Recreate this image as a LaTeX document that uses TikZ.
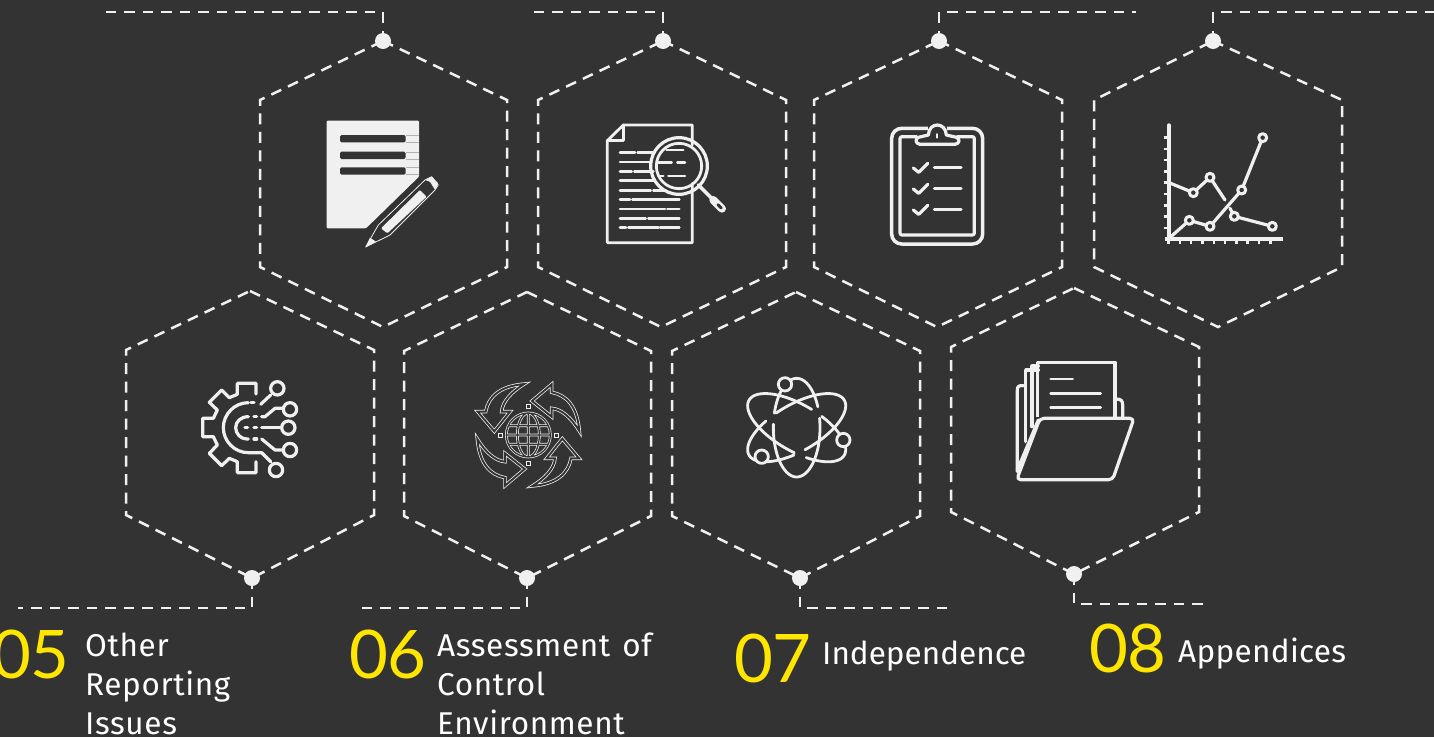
\documentclass[tikz,border=0pt]{standalone}
\usepackage{fontspec}
\setmainfont{Fira Sans}
\newfontfamily\numfont{Lato}
\definecolor{bg}{HTML}{333333}
\definecolor{ink}{HTML}{F0F0F0}
\definecolor{eyyellow}{HTML}{FFE600}
\newcommand{\hexa}[8]{\draw[hexline] (#1,#2) -- (#4,#5) -- (#4,#6) -- (#7,#8) -- (#3,#6) -- (#3,#5) -- cycle;}
\tikzset{
  hexline/.style={draw=ink,line width=2.5pt,dash pattern=on 11pt off 7.5pt},
  linkline/.style={draw=ink,line width=2.5pt,dash pattern=on 10.5pt off 8pt},
  dotnode/.style={circle,fill=ink,inner sep=0pt,minimum size=16pt},
  numlabel/.style={anchor=base east,text=eyyellow,inner sep=0pt,font=\numfont\fontsize{67}{67}\selectfont},
  txtlabel/.style={anchor=base west,text=white,inner sep=0pt,align=left,text depth=0pt,font=\addfontfeatures{LetterSpace=2}\fontsize{31.5}{39}\selectfont},
  zoomat/.style 2 args={shift={(#1,#2)},x=0.33333pt,y=-0.33333pt},
  icon/.style={draw=ink,line width=3.2pt,line cap=round,line join=round},
  thin icon/.style={draw=ink,line width=0.8pt,line join=round},
  twin/.style={draw=ink,line width=0.75pt,double=bg,double distance=1.9pt,line join=miter},
  twin globe/.style={draw=ink,line width=0.7pt,double=bg,double distance=1.3pt,line join=miter}
}
\begin{document}
\begin{tikzpicture}[x=1pt,y=-1pt]
\useasboundingbox (0,0) rectangle (1434,737);
\fill[bg] (0,0) rectangle (1434,737);
% hexagons
\hexa{383}{41}{260}{507}{100}{267}{383}{327}
\hexa{663}{41}{538}{786}{100}{267}{661}{327}
\hexa{939}{41}{814}{1062}{100}{267}{937}{327}
\hexa{1213}{41}{1094}{1342}{100}{267}{1218}{327}
\hexa{250}{291}{126}{374}{350}{515}{252}{578}
\hexa{527}{292}{404}{651}{351}{516}{527}{578}
\hexa{796}{292}{672}{920}{351}{516}{800}{578}
\hexa{1074}{288}{951}{1199}{347}{512}{1074}{574}
% dots and connectors
\node[dotnode] (d1) at (383,41) {};
\node[dotnode] (d2) at (663,41) {};
\node[dotnode] (d3) at (939,41) {};
\node[dotnode] (d4) at (1213,41) {};
\node[dotnode] (d5) at (252,578) {};
\node[dotnode] (d6) at (527,578) {};
\node[dotnode] (d7) at (800,578) {};
\node[dotnode] (d8) at (1074,574) {};
\coordinate (c1) at (383,12); \coordinate (e1) at (104,12);
\coordinate (c2) at (663,12); \coordinate (e2) at (534,12);
\coordinate (c3) at (939,12); \coordinate (e3) at (1136,12);
\coordinate (c4) at (1213,12); \coordinate (e4) at (1434,12);
\coordinate (c5) at (252,608); \coordinate (e5) at (18,608);
\coordinate (c6) at (527,608); \coordinate (e6) at (359,608);
\coordinate (c7) at (800,608); \coordinate (e7) at (950,608);
\coordinate (c8) at (1074,604); \coordinate (e8) at (1204,604);
\foreach \i in {1,...,8}{\draw[linkline] (d\i.center) -- (c\i) -- (e\i);}
% icon 1: paper and pencil
\begin{scope}[zoomat={300}{100}]
\fill[ink,rounded corners=1pt] (80,62) -- (357,62) -- (357,230) -- (198,385) -- (80,385) -- cycle;
\foreach \y in {116,166,213}{
  \draw[gray!60,line width=.5pt] (317,\y-10) -- (357,\y-10) (317,\y+11) -- (357,\y+11);
  \fill[bg,rounded corners=1.5pt] (120,\y-11) rectangle (317,\y+11);}
\draw[thin icon] (197,441) -- (235,375) -- (375,240) -- (395,230) -- (415,255) -- (405,270) -- (270,405) -- cycle;
\fill[ink,rounded corners=1pt] (243,385) -- (360,270) -- (380,290) -- (262,400) -- cycle;
\fill[ink,rounded corners=1pt] (375,240) -- (395,230) -- (415,250) -- (405,270) -- (390,245) -- cycle;
\fill[ink] (197,441) -- (210,413) -- (228,425) -- cycle;
\end{scope}
% icon 2: document with magnifier
\begin{scope}[zoomat={300}{100}]
\draw[icon,line width=2.8pt] (1177,135) -- (1177,75) -- (970,75) -- (922,122) -- (922,428) -- (1177,428) -- (1177,250);
\draw[icon,line width=2.8pt] (970,75) -- (970,122) -- (922,122);
\foreach \y/\a/\b in {158/960/1005,158/1013/1060,186/960/1055,215/960/995,215/1003/1060,242/960/1060,271/960/1052,271/1060/1095,299/960/990,299/997/1138,327/960/1095,327/1102/1138,356/960/1037,356/1045/1138,383/960/978,383/985/1075,383/1080/1138,150/1100/1150,188/1075/1115,188/1132/1155,228/1075/1090,228/1105/1155}
  {\draw[icon,line width=2.6pt] (\a,\y) -- (\b,\y);}
\draw[icon] (1137,198) circle[radius=85];
\draw[icon,line width=2.8pt] (1137,198) circle[radius=68];
\draw[icon,line width=3.6pt] (1195,255) -- (1245,305);
\draw[draw=ink,line width=8pt,line cap=round] (1240,300) -- (1266,326);
\draw[draw=bg,line width=3pt,line cap=round] (1254,314) -- (1264,324);
\end{scope}
% icon 3: clipboard
\begin{scope}[zoomat={860}{100}]
\draw[icon,line width=3.5pt,rounded corners=10pt] (232,85) -- (368,85) -- (368,432) -- (95,432) -- (95,85) -- cycle;
\draw[icon,rounded corners=2pt] (170,110) -- (120,110) -- (120,405) -- (343,405) -- (343,110) -- (292,110);
\fill[bg] (205,72) rectangle (260,105);
\draw[icon] (175,112) -- (205,105) .. controls (207,65) and (257,65) .. (259,105) -- (290,112) .. controls (300,118) and (300,130) .. (285,133) -- (180,133) .. controls (165,130) and (165,118) .. (175,112);
\draw[icon,line width=2pt] (232,102) -- (232,113);
\foreach \y in {202,265,328}{
  \draw[icon,line width=3.2pt] (160,\y+2) -- (176,\y+15) -- (203,\y-12);
  \draw[icon] (223,\y) -- (303,\y);}
\end{scope}
% icon 4: chart
\begin{scope}[zoomat={860}{100}]
\draw[icon,line width=3.4pt] (927,75) -- (927,418);
\draw[icon,line cap=butt,line width=3.4pt] (915,417) -- (1268,417);
\foreach \y in {113,147,180,214,248,282,316,350,384}{\draw[icon,line cap=butt,line width=2.8pt] (911,\y) -- (927,\y);}
\foreach \x in {925,960,993,1027,1062,1095,1129,1163,1197,1231}{\draw[icon,line cap=butt,line width=2.8pt] (\x,417) -- (\x,433);}
\draw[icon] (927,248) -- (1000,278) -- (1050,232) -- (1095,300);
\draw[icon] (1110,325) -- (1123,349) -- (1237,379);
\draw[icon] (927,415) -- (988,361) -- (1050,379) -- (1145,270) -- (1208,113);
\foreach \x/\y in {1000/278,1050/232,1123/349,1237/379,988/361,1050/379,1145/270,1208/113}
  {\draw[icon,fill=bg,line width=3pt] (\x,\y) circle[radius=12];}
\end{scope}
% icon 5: gear circuit
\begin{scope}[zoomat={180}{360}]
\draw[icon] (228,102) -- (228,70) -- (172,70) -- (172,103) -- (148,113) -- (125,90) -- (88,127) -- (112,150) -- (100,175) -- (68,175) -- (68,230) -- (100,230) -- (112,255) -- (88,280) -- (125,317) -- (148,295) -- (172,305) -- (172,338) -- (228,338) -- (228,305);
\draw[icon] (205,128) .. controls (164,128) and (130,162) .. (130,203) .. controls (130,244) and (164,278) .. (205,278) -- (245,278) -- (272,305);
\draw[icon] (213,128) -- (222,128);
\draw[icon] (242,133) -- (272,105);
\draw[icon] (205,170) .. controls (182,170) and (167,185) .. (167,203) .. controls (167,221) and (182,237) .. (200,237) -- (205,237);
\draw[icon] (222,170) -- (230,170) (222,237) -- (230,237) (195,203) -- (203,203) (222,203) -- (230,203);
\draw[icon] (245,170) -- (255,170) -- (285,145) -- (310,145);
\draw[icon] (245,203) -- (305,203);
\draw[icon] (245,237) -- (285,270) -- (310,270);
\foreach \x/\y in {292/85,330/148,325/203,330/270,288/330}{\draw[icon] (\x,\y) circle[radius=20];}
\end{scope}
% icon 6: globe and arrows
\begin{scope}[zoomat={465}{370}]
\foreach \r in {0,90,180,270}{
  \draw[twin,rotate around={-\r:(190,195)}] (178,42) .. controls (105,48) and (70,80) .. (62,125) -- (38,125) -- (88,184) -- (135,125) -- (110,125) .. controls (112,95) and (140,65) .. (178,42) -- cycle;}
\draw[twin globe] (190,195) circle[radius=66]
  (190,195) ellipse[x radius=33,y radius=66]
  (190,129) -- (190,261)
  (131,167) -- (249,167) (124,195) -- (256,195) (131,223) -- (249,223);
\foreach \x/\y in {190/110,105/195,273/195,190/280}{\draw[ink,line width=.8pt] (\x-6,\y-6) rectangle (\x+6,\y+6);}
\end{scope}
% icon 7: atom
\begin{scope}[zoomat={730}{355}]
\foreach \r/\m in {0/148,120/165,240/165}{
\begin{scope}[rotate around={-\r:(200,218)}]
  \draw[icon,line width=2.8pt] plot[domain=-11:184,samples=50,smooth] ({200+70*cos(\x)},{218+\m*sin(\x)});
  \draw[icon,line width=2.8pt] plot[domain=197:335,samples=40,smooth] ({200+70*cos(\x)},{218+\m*sin(\x)});
\end{scope}}
\foreach \x/\y in {165/88,340/255,95/305}{\draw[icon,fill=bg,line width=2.8pt] (\x,\y) circle[radius=20];}
\end{scope}
% icon 8: folder
\begin{scope}[zoomat={730}{355}]
\draw[icon] (880,92) .. controls (866,90) and (862,95) .. (862,105) -- (862,350);
\draw[icon] (887,260) -- (887,45) -- (925,45);
\draw[icon] (906,215) -- (906,33) -- (925,33);
\draw[icon,line cap=butt] (923,185) -- (923,22) -- (1155,22) -- (1155,185);
\draw[icon] (1158,132) .. controls (1172,132) and (1178,136) .. (1178,150) -- (1178,185);
\foreach \a/\b/\y in {962/1028/72,962/1112/115,962/1112/157}{\draw[icon,line width=2.8pt] (\a,\y) -- (\b,\y);}
\draw[icon,rounded corners=4pt] (930,190) -- (1212,190) -- (1148,374) -- (860,374) -- cycle;
\draw[icon] (862,345) -- (925,195);
\end{scope}
% labels
\node[numlabel] (n5) at (70,678) {05};
\node[numlabel] (n6) at (427,678) {06};
\node[numlabel] (n7) at (812,682) {07};
\node[numlabel] (n8) at (1167,672) {08};
\node[txtlabel] (t5) at (85,734) {Other\\Reporting\\Issues};
\node[txtlabel] (t6) at (437,734) {Assessment\hspace{3pt} of\\Control\\Environment};
\node[txtlabel,font=\fontsize{31.5}{39}\selectfont] (t7) at (822,664) {Independence};
\node[txtlabel,font=\addfontfeatures{LetterSpace=1}\fontsize{31.5}{39}\selectfont] (t8) at (1178,662) {Appendices};
\end{tikzpicture}
\end{document}
